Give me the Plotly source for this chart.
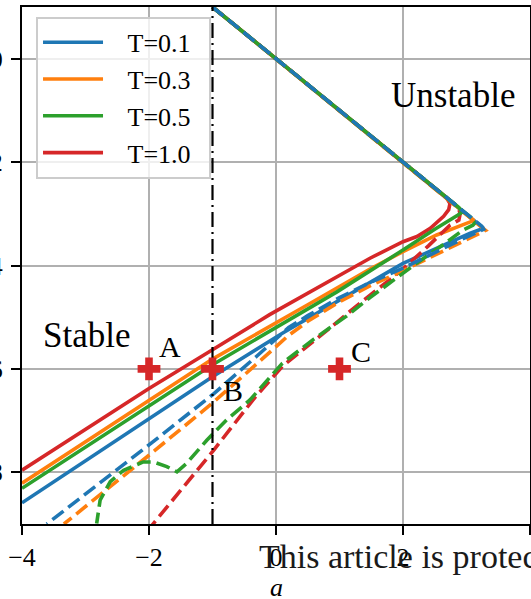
import plotly.graph_objects as go

# ---------------- data ----------------
# shared upper boundary (from top edge down towards the cusp)
UPPER_X = [-1.0, 0.0, 1.0, 2.0, 2.6]
UPPER_Y = [1.0, 0.0, -1.0, -2.0, -2.6]

T_LABELS = ["T=0.1", "T=0.3", "T=0.5", "T=1.0"]
COLORS = ["#1f77b4", "#ff7f0e", "#2ca02c", "#d62728"]

# solid branches (cusp -> left edge)
SOLID_X = [
    [3.2, 3.27, 3.05, 2.5, 2.0, 1.0, 0.1, -1.0, -2.0, -4.0],
    [3.08, 3.12, 3.05, 2.53, 2.0, 1.48, 0.5, -0.1, -1.0, -4.0],
    [2.88, 2.93, 2.86, 2.5, 2.0, 0.96, -0.1, -1.0, -4.0],
    [2.68, 2.74, 2.72, 2.64, 2.55, 2.43, 2.22, 2.0, 1.48, 0.96, 0.43, -0.1, -1.0, -2.0, -4.0],
]
SOLID_Y = [
    [-3.2, -3.28, -3.38, -3.68, -3.96, -4.67, -5.31, -6.15, -6.97, -8.59],
    [-3.08, -3.13, -3.16, -3.41, -3.73, -4.07, -4.76, -5.18, -5.81, -8.21],
    [-2.88, -2.97, -3.03, -3.3, -3.70, -4.51, -5.28, -5.92, -8.31],
    [-2.68, -2.8, -2.92, -3.05, -3.15, -3.28, -3.44, -3.54, -3.86, -4.22, -4.58, -4.95, -5.63, -6.38, -7.96],
]

# dashed branches (cusp -> bottom edge)
DASH_X = [
    [3.24, 3.27, 3.0, 2.5, 2.0, 1.5, 1.0, 0.5, 0.2, -0.3, -1.0, -2.0, -3.61],
    [3.26, 3.3, 3.0, 2.5, 2.0, 1.5, 1.0, 0.5, 0.2, -0.3, -1.0, -2.0, -3.34],
    [3.15, 3.1, 2.95, 2.63, 2.22, 1.8, 1.48, 1.11, 0.6, 0.1, -0.41, -0.78, -1.09, -1.41, -1.56,
     -1.72, -1.93, -2.09, -2.40, -2.61, -2.77, -2.824],
    [2.87, 2.9, 2.88, 2.74, 2.4, 1.95, 1.3, 0.75, 0.1, -0.33, -0.98, -1.95],
]
DASH_Y = [
    [-3.24, -3.3, -3.45, -3.75, -4.05, -4.32, -4.62, -4.97, -5.2, -5.75, -6.5, -7.47, -9.0],
    [-3.26, -3.32, -3.5, -3.8, -4.1, -4.38, -4.7, -5.08, -5.35, -5.9, -6.66, -7.67, -9.0],
    [-3.15, -3.22, -3.31, -3.6, -3.95, -4.33, -4.62, -4.98, -5.42, -5.89, -6.60, -6.99, -7.38, -7.83, -7.99,
     -7.89, -7.80, -7.80, -7.96, -8.18, -8.54, -8.99],
    [-2.87, -3.0, -3.12, -3.22, -3.62, -4.12, -4.75, -5.31, -5.95, -6.55, -7.57, -9.02],
]

BOUNDARY_A = -1.0
POINT_X = [-2.0, -1.0, 1.0]
POINT_Y = [-6.0, -6.0, -6.0]
POINT_LABELS = ["A", "B", "C"]

X_RANGE = [-4, 4]
Y_RANGE = [-9, 1]
X_TITLE = "<i>a</i>"

FONT = "Liberation Serif"
NB = "\u00a0"

fig = go.Figure()

def full(i, bx, by):
    return UPPER_X + bx[i], UPPER_Y + by[i]

# drawing order (bottom -> top)
order = [("s", 0), ("s", 1), ("s", 3), ("d", 3), ("d", 1), ("d", 2), ("s", 2), ("d", 0)]
for kind, i in order:
    if kind == "s":
        x, y = full(i, SOLID_X, SOLID_Y)
        fig.add_trace(go.Scatter(
            x=x, y=y, mode="lines", name=NB * 3 + T_LABELS[i] + NB * 2, legendrank=i + 1,
            line=dict(color=COLORS[i], width=3.6), showlegend=True))
    else:
        x, y = full(i, DASH_X, DASH_Y)
        fig.add_trace(go.Scatter(
            x=x, y=y, mode="lines", name=T_LABELS[i] + " (dashed)",
            line=dict(color=COLORS[i], width=3.6, dash="14px,6px"), showlegend=False))

# vertical dash-dot boundary
fig.add_trace(go.Scatter(
    x=[BOUNDARY_A, BOUNDARY_A], y=Y_RANGE, mode="lines", showlegend=False,
    line=dict(color="black", width=2.2, dash="15px,5px,2px,5px")))

# points
fig.add_trace(go.Scatter(
    x=POINT_X, y=POINT_Y, mode="markers", showlegend=False,
    marker=dict(symbol="cross", size=19, color="#d62728", line=dict(width=0))))

label_shift = {"A": (21, 22), "B": (20, -22), "C": (21, 17)}
for px, py, lab in zip(POINT_X, POINT_Y, POINT_LABELS):
    dx, dy = label_shift[lab]
    fig.add_annotation(x=px, y=py, text=lab, showarrow=False, xshift=dx, yshift=dy,
                       xanchor="center", yanchor="middle",
                       font=dict(family=FONT, size=30, color="black"))

fig.add_annotation(x=-2.98, y=-5.36, text="Stable", showarrow=False,
                   xanchor="center", yanchor="middle",
                   font=dict(family=FONT, size=35, color="black"))
fig.add_annotation(x=2.787, y=-0.72, text="Unstable", showarrow=False,
                   xanchor="center", yanchor="middle",
                   font=dict(family=FONT, size=35, color="black"))

# x-axis title (placed as annotation for exact position)
fig.add_annotation(xref="paper", yref="paper", x=0.5, y=-0.123, text=X_TITLE,
                   showarrow=False, xanchor="center", yanchor="middle",
                   font=dict(family=FONT, size=26, color="black"))

# watermark text present in the picture
fig.add_annotation(xref="paper", yref="paper", x=0.4626, y=-0.062,
                   text="This article is protected by copyright. All rights reserved.",
                   showarrow=False, xanchor="left", yanchor="middle",
                   font=dict(family=FONT, size=34, color="#1a1a1a"))

axis_common = dict(
    showline=True, linecolor="black", linewidth=2, mirror=True,
    ticks="outside", ticklen=9, tickwidth=2, tickcolor="black",
    showgrid=True, gridcolor="#b0b0b0", gridwidth=2,
    zeroline=False, automargin=False,
    tickfont=dict(family=FONT, size=26, color="black"),
)

fig.update_xaxes(range=X_RANGE, tick0=0, dtick=2, **axis_common)
fig.update_yaxes(range=Y_RANGE, tick0=0, dtick=2, ticklabelstandoff=3, **axis_common)

fig.update_layout(
    width=531, height=599,
    margin=dict(l=22, r=1, t=7, b=75),
    paper_bgcolor="white", plot_bgcolor="white",
    template="none",
    showlegend=True,
    legend=dict(x=0.0276, y=0.981, xanchor="left", yanchor="top",
                bgcolor="rgba(255,255,255,0.8)", bordercolor="#cccccc", borderwidth=2,
                font=dict(family=FONT, size=26, color="black"), itemwidth=60,
                traceorder="normal"),
)

fig.write_html("out.html")
